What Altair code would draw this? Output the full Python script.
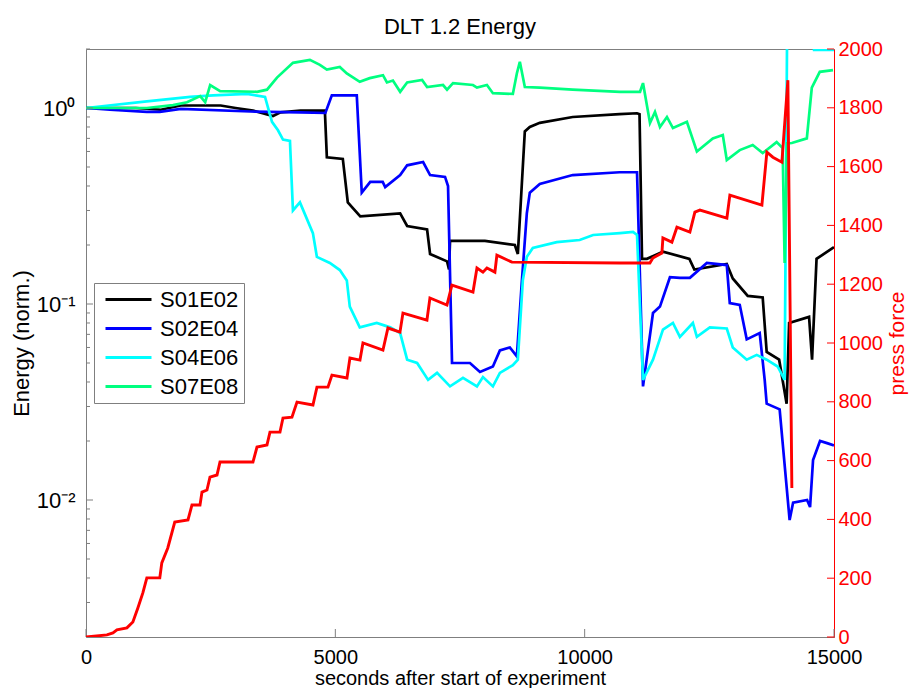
import altair as alt
import pandas as pd

FONT = "Liberation Sans"

names = ["S01E02", "S02E04", "S04E06", "S07E08"]
colors = ["#000000", "#0000ff", "#00ffff", "#00ff80"]

black_t = [0, 1000, 1500, 1900, 2700, 3000, 3350, 3750, 3900, 4300, 4790, 4830, 5150, 5250, 5500,
           6300, 6440, 6840, 6900, 7240, 7280, 7300, 8000, 8600, 8660, 8800, 8900, 9100, 9760, 10700,
           11050, 11100, 11150, 11250, 11570, 12100, 12200, 12850, 12970, 13270, 13570, 13650, 13900,
           14050, 14100, 14500, 14560, 14650, 15000]
black_e = [1.0, 1.0, 0.98, 1.03, 1.03, 1.0, 0.97, 0.91, 0.95, 0.97, 0.97, 0.56, 0.55, 0.33, 0.28,
           0.29, 0.25, 0.24, 0.18, 0.165, 0.15, 0.21, 0.21, 0.20, 0.18, 0.76, 0.80, 0.84, 0.90, 0.93,
           0.94, 0.93, 0.17, 0.17, 0.185, 0.17, 0.15, 0.16, 0.135, 0.11, 0.108, 0.057, 0.052,
           0.031, 0.08, 0.086, 0.052, 0.17, 0.195]

blue_t = [0, 480, 1220, 1480, 1900, 3300, 4290, 4800, 4930, 5430, 5530, 5700, 5950, 6000, 6300,
          6440, 6760, 6900, 7200, 7260, 7340, 7700, 7900, 8160, 8300, 8500, 8640, 8740, 8840, 8900,
          9100, 9760, 10700, 11050, 11170, 11370, 11510, 11710, 11910, 12110, 12450, 12850, 12910,
          13110, 13250, 13510, 13610, 13650, 13910, 14110, 14180, 14460, 14520, 14580, 14720,
          14860, 15000]
blue_e = [1.0, 0.98, 0.955, 0.955, 0.99, 0.96, 0.95, 0.943, 1.16, 1.16, 0.37, 0.42, 0.42, 0.395,
          0.455, 0.51, 0.53, 0.455, 0.445, 0.40, 0.05, 0.05, 0.045, 0.048, 0.058, 0.06, 0.054, 0.13,
          0.29, 0.37, 0.41, 0.455, 0.47, 0.47, 0.038, 0.09, 0.097, 0.137, 0.136, 0.136, 0.162,
          0.158, 0.101, 0.099, 0.066, 0.071, 0.041, 0.031, 0.029, 0.0079, 0.0097, 0.010, 0.0092,
          0.016, 0.020, 0.0195, 0.019]

cyan_t = [0, 1220, 2090, 2550, 3230, 3590, 3730, 3850, 3950, 4090, 4150, 4290, 4550, 4630, 4890,
          5090, 5230, 5290, 5490, 5830, 6100, 6300, 6440, 6640, 6860, 7040, 7300, 7560, 7840, 7960,
          8160, 8300, 8560, 8660, 8760, 8840, 8960, 9440, 9900, 10170, 10710, 10970, 11050, 11170,
          11370, 11570, 11770, 11910, 12170, 12250, 12510, 12850, 12970, 13250, 13450, 13650,
          13870, 14010, 14060, 14550, 14600, 15000]
cyan_e = [1.0, 1.08, 1.14, 1.16, 1.18, 1.14, 0.85, 0.77, 0.69, 0.68, 0.30, 0.33, 0.23, 0.174,
          0.162, 0.149, 0.132, 0.097, 0.076, 0.080, 0.076, 0.071, 0.052, 0.050, 0.041, 0.0445,
          0.038, 0.042, 0.038, 0.0424, 0.038, 0.0445, 0.0488, 0.052, 0.132, 0.174, 0.193, 0.207,
          0.212, 0.225, 0.23, 0.233, 0.225, 0.041, 0.052, 0.074, 0.080, 0.068, 0.080, 0.068, 0.076,
          0.075, 0.060, 0.052, 0.055, 0.052, 0.048, 0.041, 2.5, 2.5, 1.98, 1.98]

green_t = [0, 1220, 1745, 2025, 2290, 2390, 2490, 2690, 3430, 3630, 3830, 4150, 4490, 4690, 4830,
           5090, 5230, 5490, 5690, 5955, 6035, 6155, 6300, 6440, 6740, 6840, 7160, 7240, 7360,
           7760, 7840, 8040, 8160, 8560, 8640, 8700, 8800, 9100, 9760, 10710, 11110, 11170, 11310,
           11410, 11510, 11650, 11770, 12050, 12250, 12570, 12770, 12850, 13110, 13370, 13570,
           13850, 13970, 14010, 14060, 14155, 14455, 14555, 14715, 14980]
green_e = [1.0, 1.0, 1.035, 1.07, 1.15, 1.07, 1.31, 1.22, 1.21, 1.24, 1.43, 1.70, 1.76, 1.66, 1.57,
           1.62, 1.50, 1.36, 1.42, 1.47, 1.35, 1.38, 1.21, 1.35, 1.39, 1.28, 1.31, 1.24, 1.34,
           1.31, 1.27, 1.31, 1.19, 1.18, 1.5, 1.72, 1.28, 1.27, 1.24, 1.21, 1.21, 1.34, 0.838,
           0.955, 0.80, 0.90, 0.79, 0.85, 0.60, 0.70, 0.728, 0.543, 0.61, 0.648, 0.589,
           0.67, 0.625, 0.162, 0.66, 0.663, 0.70, 1.27, 1.53, 1.56]

force_t = [0, 420, 540, 620, 820, 940, 1040, 1140, 1220, 1480, 1520, 1640, 1780, 2045, 2125, 2286,
           2326, 2426, 2486, 2627, 2687, 3348, 3429, 3629, 3689, 3890, 3950, 4130, 4231, 4551,
           4631, 4852, 4932, 5233, 5293, 5494, 5554, 5955, 6055, 6296, 6356, 6837, 6897, 7238,
           7338, 7760, 7840, 7960, 8040, 8200, 8240, 8541, 10707, 11308, 11368, 11549, 11569,
           11749, 11850, 12110, 12210, 12311, 12852, 12912, 13554, 13654, 13774, 13955, 14075, 14155]
force_v = [0, 7, 14, 24, 31, 51, 99, 150, 201, 201, 252, 303, 391, 398, 449, 449,
           493, 500, 544, 551, 595, 595, 646, 653, 697, 697, 745, 748, 799, 789,
           850, 850, 891, 881, 949, 942, 1000, 976, 1051, 1037, 1102, 1078, 1153, 1129,
           1197, 1173, 1255, 1241, 1255, 1241, 1299, 1275, 1272, 1272, 1289, 1306, 1357,
           1343, 1394, 1377, 1445, 1452, 1425, 1503, 1469, 1649, 1632, 1615, 1894, 507]

x_tick_values = [0, 5000, 10000, 15000]
e_major = [0.01, 0.1, 1]
e_minor = [0.002, 0.003, 0.004, 0.005, 0.006, 0.007, 0.008, 0.009,
           0.02, 0.03, 0.04, 0.05, 0.06, 0.07, 0.08, 0.09,
           0.2, 0.3, 0.4, 0.5, 0.6, 0.7, 0.8, 0.9, 2]
f_ticks = list(range(0, 2001, 200))

series = [(names[0], black_t, black_e), (names[1], blue_t, blue_e),
          (names[2], cyan_t, cyan_e), (names[3], green_t, green_e)]
energy = pd.concat([pd.DataFrame({"t": t, "E": e, "series": n})
                    for (n, t, e) in series], ignore_index=True)
force = pd.DataFrame({"t": force_t, "F": force_v})

GRAY = "#7f7f7f"
xscale = alt.Scale(domain=[0, 15000], nice=False, zero=False)
def escale():
    return alt.Scale(type="log", domain=[0.002, 2], nice=False)
def fscale():
    return alt.Scale(domain=[0, 2000], nice=False, zero=False)

x_axis = alt.Axis(
    values=x_tick_values, format="d", title="seconds after start of experiment", orient="bottom",
    ticks=False, domain=False, grid=False, labelFlush=False, labelOverlap=False,
    labelPadding=10, titlePadding=17.6, titleBaseline="alphabetic", labelFontSize=20,
    titleFontSize=20, titleFontWeight="normal", labelColor="black", titleColor="black",
    labelFont=FONT, titleFont=FONT)

lines = alt.Chart(energy).mark_line(strokeWidth=2.7, clip=True).encode(
    x=alt.X("t:Q", scale=xscale, axis=x_axis),
    y=alt.Y("E:Q", scale=escale(), axis=alt.Axis(
        values=e_major, orient="left", title="Energy (norm.)",
        labelExpr="'10' + (datum.value > 0.5 ? '\u2070' : datum.value > 0.05 ? '\u207b\u00b9' : '\u207b\u00b2')",
        ticks=False, domain=False, grid=False, labelPadding=11, titlePadding=3,
        labelFontSize=22, titleFontSize=22, titleFontWeight="normal",
        labelColor="black", titleColor="black", labelFont=FONT, titleFont=FONT)),
    color=alt.Color("series:N", scale=alt.Scale(domain=names, range=colors), legend=alt.Legend(
        orient="none", legendX=8, legendY=234, title=None, symbolType="M-2.3,0H2.3",
        symbolSize=400, symbolStrokeWidth=3, labelFontSize=22, labelFont=FONT,
        labelColor="black", strokeColor=GRAY, fillColor="white", padding=5,
        symbolOffset=18, labelOffset=20, rowPadding=6)),
)

xt = alt.Chart(pd.DataFrame({"t": x_tick_values})).mark_rule(color=GRAY, strokeWidth=1).encode(
    x=alt.X("t:Q", scale=xscale, axis=None), y=alt.value(588), y2=alt.value(580))
lmaj = alt.Chart(pd.DataFrame({"v": e_major})).mark_rule(color=GRAY, strokeWidth=1).encode(
    y=alt.Y("v:Q", scale=escale(), axis=None), x=alt.value(0), x2=alt.value(7))
lmin = alt.Chart(pd.DataFrame({"v": e_minor})).mark_rule(color=GRAY, strokeWidth=1).encode(
    y=alt.Y("v:Q", scale=escale(), axis=None), x=alt.value(0), x2=alt.value(4))

fline = alt.Chart(force).mark_line(color="#ff0000", strokeWidth=2.9, clip=True).encode(
    x=alt.X("t:Q", scale=xscale, axis=None),
    y=alt.Y("F:Q", scale=fscale(), axis=alt.Axis(
        values=f_ticks, format="d", orient="right", title="press force", titleAngle=270,
        titleBaseline="top", ticks=False, domain=True, domainColor="#ff0000",
        grid=False, labelPadding=4, titlePadding=4, labelFontSize=20, titleFontSize=21,
        titleFontWeight="normal", labelColor="#ff0000", titleColor="#ff0000",
        labelFont=FONT, titleFont=FONT, labelOverlap=False, labelFlush=False)),
)
rt = alt.Chart(pd.DataFrame({"v": f_ticks})).mark_rule(color="#ff0000", strokeWidth=1).encode(
    y=alt.Y("v:Q", scale=fscale(), axis=None), x=alt.value(741), x2=alt.value(748))

chart = alt.layer(lines, lmaj, lmin, xt, fline, rt).resolve_scale(
    y="independent").resolve_axis(x="independent").properties(
    width=748, height=588,
    title=alt.TitleParams("DLT 1.2 Energy", fontSize=22, fontWeight="normal", font=FONT,
                          color="black", anchor="middle", baseline="alphabetic", offset=8, dy=25),
    padding={"left": 78, "top": 41, "right": 75, "bottom": 51},
    autosize=alt.AutoSizeParams(type="none"),
).configure(background="white").configure_view(stroke=GRAY, strokeWidth=1)

chart.save("out.html", embed_options={"renderer": "svg", "actions": False})
